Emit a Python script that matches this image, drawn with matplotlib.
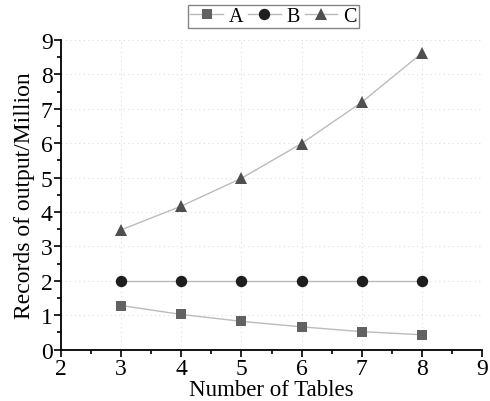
import matplotlib
matplotlib.use('Agg')
import matplotlib.pyplot as plt
from matplotlib.ticker import MultipleLocator

tables = [3, 4, 5, 6, 7, 8]
series_a = [1.28, 1.02, 0.82, 0.66, 0.52, 0.43]
series_b = [2.0, 2.0, 2.0, 2.0, 2.0, 2.0]
series_c = [3.48, 4.17, 4.98, 5.99, 7.19, 8.62]

plt.rcParams['font.family'] = ['Liberation Serif', 'DejaVu Serif']

fig = plt.figure(figsize=(4.9, 4.02), dpi=100)
ax = fig.add_axes([0.1245, 0.128, 0.8592, 0.77])

line_kw = dict(color='#bbbbbb', linewidth=1.0, markeredgewidth=0)
ax.plot(tables, series_a, marker='s', markersize=6.8, markerfacecolor='#626262', label='A', **line_kw)
ax.plot(tables, series_b, marker='o', markersize=8.2, markerfacecolor='#1e1e1e', label='B', **line_kw)
ax.plot(tables, series_c, marker='^', markersize=9.0, markerfacecolor='#4f4f4f', label='C', **line_kw)

ax.set_xlim(2, 9)
ax.set_ylim(0, 9)
ax.xaxis.set_major_locator(MultipleLocator(1))
ax.xaxis.set_minor_locator(MultipleLocator(0.5))
ax.yaxis.set_major_locator(MultipleLocator(1))
ax.yaxis.set_minor_locator(MultipleLocator(0.5))
ax.tick_params(which='major', direction='out', length=5, width=1.2, labelsize=17, pad=1)
ax.tick_params(which='minor', direction='out', length=3, width=1.2)

for side in ['top', 'right']:
    ax.spines[side].set_visible(False)
for side in ['left', 'bottom']:
    ax.spines[side].set_linewidth(1.3)

ax.grid(True, which='major', linestyle=(0, (1, 3)), color='#dddddd', linewidth=0.8)
ax.set_axisbelow(True)

ax.set_xlabel('Number of Tables', fontsize=16.5, labelpad=0)
ax.set_ylabel('Records of output/Million', fontsize=17, labelpad=4)

leg = ax.legend(loc='lower center', bbox_to_anchor=(0.505, 1.02), ncol=3, fontsize=14.5,
                frameon=True, fancybox=False, edgecolor='#666666', handlelength=1.6,
                handletextpad=0.3, columnspacing=0.25, borderpad=0.1, borderaxespad=0.3)
leg.get_frame().set_linewidth(1.0)

fig.savefig('out.png', dpi=100)
